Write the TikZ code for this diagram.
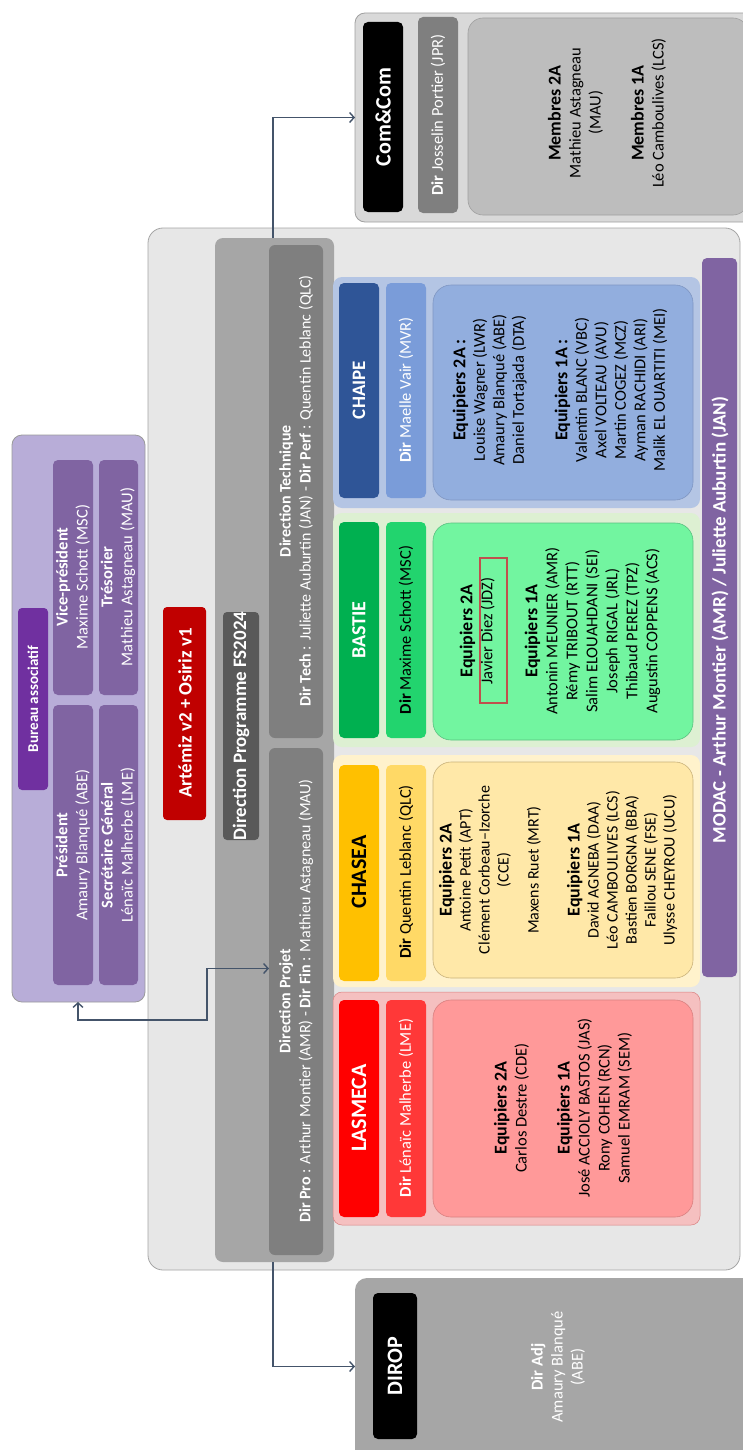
\documentclass[tikz,border=0pt]{standalone}
\usepackage{fontspec}
\setmainfont{Carlito}
\usetikzlibrary{arrows.meta}

\definecolor{cConn}{HTML}{44546A}
\definecolor{cFrame}{HTML}{E7E7E7}
\definecolor{cFrameLine}{HTML}{A5A5A5}
\definecolor{cProg}{HTML}{A6A6A6}
\definecolor{cDir}{HTML}{7F7F7F}
\definecolor{cFS}{HTML}{595959}
\definecolor{cArt}{HTML}{C00000}
\definecolor{cBurOut}{HTML}{B8ADD8}
\definecolor{cBurLine}{HTML}{9A9A9A}
\definecolor{cBurIn}{HTML}{8064A2}
\definecolor{cTab}{HTML}{7030A0}
\definecolor{cModac}{HTML}{8064A2}
% CHAIPE
\definecolor{bPanel}{HTML}{B4C5E4}
\definecolor{bHead}{HTML}{2F5597}
\definecolor{bDir}{HTML}{7A9CD9}
\definecolor{bMem}{HTML}{92AEDE}
\definecolor{bLine}{HTML}{7F96C2}
% BASTIE
\definecolor{gPanel}{HTML}{DDF0D2}
\definecolor{gHead}{HTML}{00B050}
\definecolor{gDir}{HTML}{22D46E}
\definecolor{gMem}{HTML}{72F5A0}
\definecolor{gLine}{HTML}{5AC080}
% CHASEA
\definecolor{yPanel}{HTML}{FFF2CC}
\definecolor{yHead}{HTML}{FFC000}
\definecolor{yDir}{HTML}{FFD966}
\definecolor{yMem}{HTML}{FFE8A8}
\definecolor{yLine}{HTML}{C9B27A}
% LASMECA
\definecolor{rPanel}{HTML}{F5C0C0}
\definecolor{rHead}{HTML}{FF0000}
\definecolor{rDir}{HTML}{FF3838}
\definecolor{rMem}{HTML}{FF9999}
\definecolor{rLine}{HTML}{D98080}
% Com&Com / DIROP
\definecolor{kOut}{HTML}{D9D9D9}
\definecolor{kMem}{HTML}{BDBDBD}
\definecolor{kLine}{HTML}{A0A0A0}
\definecolor{jdzLine}{HTML}{C0504D}

% box from its two corners: name, x1, y1, x2, y2, style
\newcommand\bx[6]{\node[#6, minimum width={(#4)-(#2)}, minimum height={(#5)-(#3)}] (#1) at ({((#2)+(#4))/2},{((#3)+(#5))/2}) {};}
% section heading inside a member list
\newcommand\hd[1]{{\fontsize{18}{20}\selectfont\bfseries #1}}

\begin{document}
\begin{tikzpicture}[x=1pt,y=-1pt,
  box/.style={inner sep=0pt,outer sep=0pt,rounded corners=#1},
  box/.default=4pt,
  lbl/.style={rotate=90,align=center,inner sep=0pt},
  body/.style={lbl,font=\fontsize{16.5}{20}\selectfont},
  small/.style={lbl,font=\fontsize{16}{19}\selectfont},
  head/.style={lbl,font=\fontsize{#1}{#1}\selectfont\bfseries},
  head/.default=21,
  conn/.style={draw=cConn,line width=1.4pt},
  tip/.style={arrows={-Straight Barb[length=4.5pt,width=10pt]}},
]
\useasboundingbox (0,0) rectangle (742,1450);
\fill[white] (0,0) rectangle (742,1450);

% ---------- main frame ----------
\bx{frame}{148}{228}{740}{1270}{box=15pt, fill=cFrame, draw=cFrameLine, line width=0.8pt}

% ---------- Bureau associatif ----------
\bx{bureau}{12}{435}{145}{1002}{box=10pt, fill=cBurOut, draw=cBurLine, line width=0.8pt}
\bx{tab}{18}{608}{48}{790}{box=4pt, fill=cTab}
\node[head=15, text=white] (tabt) at (33,699) {Bureau associatif};
\bx{vp}{53}{460}{93}{695}{box=5pt, fill=cBurIn}
\bx{tres}{99}{460}{138}{695}{box=5pt, fill=cBurIn}
\bx{pres}{53}{705}{93}{985}{box=5pt, fill=cBurIn}
\bx{sg}{99}{705}{138}{985}{box=5pt, fill=cBurIn}
\node[body, text=white] (vpt) at (73,577) {\textbf{Vice-président}\\Maxime Schott (MSC)};
\node[body, text=white] (trest) at (118,577) {\textbf{Trésorier}\\Mathieu Astagneau (MAU)};
\node[body, text=white] (prest) at (73,845) {\textbf{Président}\\Amaury Blanqué (ABE)};
\node[body, text=white] (sgt) at (118,845) {\textbf{Secrétaire Général}\\Lénaïc Malherbe (LME)};

% ---------- programme ----------
\bx{artemiz}{163}{607}{206}{820}{box=4pt, fill=cArt}
\node[head=19, text=white] (artemizt) at (185,713) {Artémiz v2 + Osiriz v1};
\bx{prog}{215}{238}{334}{1262}{box=8pt, fill=cProg}
\bx{fs}{223}{612}{259}{840}{box=4pt, fill=cFS}
\node[head=19, text=white] (fst) at (241,726) {Direction Programme FS2024};
\bx{dtech}{269}{245}{323}{738}{box=6pt, fill=cDir}
\bx{dproj}{269}{748}{323}{1255}{box=6pt, fill=cDir}
\node[lbl, font=\fontsize{16}{20}\selectfont, text=white] (dtecht) at (296,491)
  {\textbf{Direction Technique}\\\textbf{Dir Tech} : Juliette Auburtin (JAN) - \textbf{Dir Perf} : Quentin Leblanc (QLC)};
\node[lbl, font=\fontsize{16}{20}\selectfont, text=white] (dprojt) at (296,1001)
  {\textbf{Direction Projet}\\\textbf{Dir Pro} : Arthur Montier (AMR) - \textbf{Dir Fin} : Mathieu Astagneau (MAU)};

% ---------- CHAIPE ----------
\bx{chaipe}{333}{277}{700}{508}{box=9pt, fill=bPanel}
\bx{chaipeH}{339}{283}{379}{498}{box=5pt, fill=bHead}
\bx{chaipeD}{386}{283}{426}{498}{box=5pt, fill=bDir}
\bx{chaipeM}{433}{285}{693}{500}{box=18pt, fill=bMem, draw=bLine, line width=0.6pt}
\node[head=19, text=white] (chaipeHt) at (359,390) {CHAIPE};
\node[body, text=white] (chaipeDt) at (406,390) {\textbf{Dir} Maelle Vair (MVR)};
\node[lbl, font=\fontsize{16.5}{19.5}\selectfont] (chaipeMt) at (560,390)
  {\hd{Equipiers 2A :}\\Louise Wagner (LWR)\\Amaury Blanqué (ABE)\\Daniel Tortajada (DTA)\\[24pt]
   \hd{Equipiers 1A :}\\Valentin BLANC (VBC)\\Axel VOLTEAU (AVU)\\Martin COGEZ (MCZ)\\Ayman RACHIDI (ARI)\\Malik EL OUARTITI (MEI)};

% ---------- BASTIE ----------
\bx{bastie}{333}{513}{700}{747}{box=9pt, fill=gPanel}
\bx{bastieH}{339}{522}{379}{738}{box=5pt, fill=gHead}
\bx{bastieD}{386}{522}{426}{738}{box=5pt, fill=gDir}
\bx{bastieM}{433}{523}{693}{740}{box=18pt, fill=gMem, draw=gLine, line width=0.6pt}
\node[head=20, text=white] (bastieHt) at (359,630) {BASTIE};
\node[body] (bastieDt) at (406,630) {\textbf{Dir} Maxime Schott (MSC)};
\node[body] (bastieMt) at (560,631)
  {\hd{Equipiers 2A}\\Javier Diez (JDZ)\\[25pt]
   \hd{Equipiers 1A}\\Antonin MEUNIER (AMR)\\Rémy TRIBOUT (RTT)\\Salim ELOUAHDANI (SEI)\\Joseph RIGAL (JRL)\\Thibaud PEREZ (TPZ)\\Augustin COPPENS (ACS)};
\bx{jdz}{480}{558}{507}{703}{draw=jdzLine, line width=1.2pt, inner sep=0pt}

% ---------- CHASEA ----------
\bx{chasea}{333}{755}{700}{987}{box=9pt, fill=yPanel}
\bx{chaseaH}{339}{765}{379}{981}{box=5pt, fill=yHead}
\bx{chaseaD}{386}{765}{426}{981}{box=5pt, fill=yDir}
\bx{chaseaM}{433}{762}{693}{978}{box=18pt, fill=yMem, draw=yLine, line width=0.6pt}
\node[head=22] (chaseaHt) at (359,872) {CHASEA};
\node[body] (chaseaDt) at (406,872) {\textbf{Dir} Quentin Leblanc (QLC)};
\node[small] (chaseaMt) at (558,870)
  {\hd{Equipiers 2A}\\Antoine Petit (APT)\\Clément Corbeau–Izorche\\(CCE)\\[11pt]Maxens Ruet (MRT)\\[22pt]
   \hd{Equipiers 1A}\\David AGNEBA (DAA)\\Léo CAMBOULIVES (LCS)\\Bastien BORGNA (BBA)\\Falilou SENE (FSE)\\Ulysse CHEYROU (UCU)};

% ---------- LASMECA ----------
\bx{lasmeca}{333}{992}{700}{1225}{box=9pt, fill=rPanel, draw=rLine, line width=0.5pt}
\bx{lasmecaH}{339}{1000}{379}{1217}{box=5pt, fill=rHead}
\bx{lasmecaD}{386}{1000}{426}{1217}{box=5pt, fill=rDir}
\bx{lasmecaM}{433}{1000}{693}{1217}{box=18pt, fill=rMem, draw=rLine, line width=0.6pt}
\node[head=22, text=white] (lasmecaHt) at (359,1108) {LASMECA};
\node[body, text=white] (lasmecaDt) at (406,1108) {\textbf{Dir} Lénaïc Malherbe (LME)};
\node[body] (lasmecaMt) at (563,1108)
  {\hd{Equipiers 2A}\\Carlos Destre (CDE)\\[23pt]
   \hd{Equipiers 1A}\\José ACCIOLY BASTOS (JAS)\\Rony COHEN (RCN)\\Samuel EMRAM (SEM)};

% ---------- MODAC ----------
\bx{modac}{702}{258}{737}{977}{box=5pt, fill=cModac}
\node[lbl, font=\fontsize{19}{20}\selectfont\bfseries, text=white] (modact) at (720,620)
  {MODAC - Arthur Montier (AMR) / Juliette Auburtin (JAN)};

% ---------- Com&Com ----------
\bx{com}{355}{13}{755}{222}{box=10pt, fill=kOut, draw=kLine, line width=0.8pt}
\bx{comH}{363}{22}{403}{212}{box=5pt, fill=black}
\bx{comD}{418}{17}{458}{213}{box=5pt, fill=cDir}
\bx{comM}{468}{18}{748}{215}{box=15pt, fill=kMem, draw=kLine, line width=0.6pt}
\node[head=22, text=white] (comHt) at (383,117) {Com\&Com};
\node[body, text=white] (comDt) at (438,115) {\textbf{Dir} Josselin Portier (JPR)};
\node[body] (comMt) at (607,113)
  {\hd{Membres 2A}\\Mathieu Astagneau\\(MAU)\\[23pt]\hd{Membres 1A}\\Léo Camboulives (LCS)};

% ---------- DIROP ----------
\bx{dirop}{355}{1278}{755}{1465}{box=12pt, fill=cProg}
\bx{diropH}{373}{1293}{417}{1439}{box=5pt, fill=black}
\node[head=22, text=white] (diropHt) at (395,1366) {DIROP};
\node[body, text=white] (diropt) at (558,1367) {\textbf{Dir Adj}\\Amaury Blanqué\\(ABE)};

% ---------- connectors ----------
\coordinate (jb) at (207,1020);
\draw[conn,tip] ([xshift=58pt]prog.north west) |- (com.west);
\draw[conn,tip] ([xshift=58pt]prog.south west) |- ([yshift=5pt]dirop.west);
\draw[conn,arrows={Straight Barb[length=4.5pt,width=10pt]-Straight Barb[length=4.5pt,width=10pt]}]
  ([xshift=66pt]bureau.south west) |- (jb) |- ([yshift=33pt]dproj.west);
\end{tikzpicture}
\end{document}
